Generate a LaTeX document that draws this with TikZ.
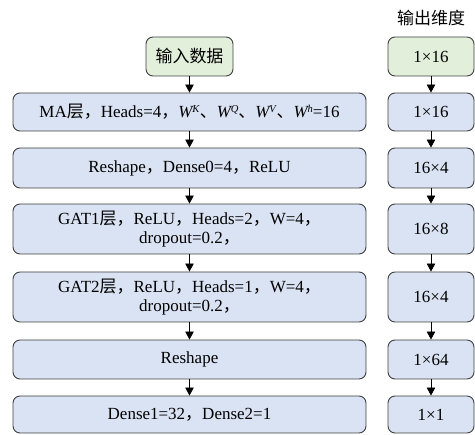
\documentclass[tikz,border=0pt]{standalone}
\usepackage{fontspec}
\setmainfont{Liberation Serif}
\newfontfamily\cjk{Noto Sans CJK SC}
\usetikzlibrary{arrows.meta}
\newcommand{\zh}[1]{{\cjk #1}}
\newcommand{\Wsup}[1]{\textit{W}\kern-1.5pt\raisebox{5pt}{\fontsize{10.5}{10.5}\selectfont\textit{#1}}}
\definecolor{boxblue}{HTML}{DAE3F3}
\definecolor{boxgreen}{HTML}{E2EFDA}
\definecolor{edgegray}{HTML}{404040}
\begin{document}
\begin{tikzpicture}[x=1pt,y=-1pt,
  layer/.style={draw=edgegray, line width=0.9pt, rounded corners=7pt, fill=boxblue,
    minimum width=353pt, inner sep=0pt, align=center, font=\fontsize{17}{19.5}\selectfont},
  dim/.style={layer, minimum width=86pt},
  start/.style={fill=boxgreen},
  flow/.style={draw=black, line width=0.8pt, -{Triangle[width=8.5pt,length=8pt]}}]
\useasboundingbox (0,0) rectangle (475,435);
% left column
\node[layer, start, minimum width=87pt, minimum height=39pt] (in) at (189.5,56.5) {\zh{输入数据}};
\node[layer, minimum height=38pt] (ma) at (189.5,112) {MA\zh{层，}Heads=4\zh{，}\Wsup{K}\zh{、}\Wsup{Q}\zh{、}\Wsup{V}\zh{、}\Wsup{h}=16};
\node[layer, minimum height=40pt] (rs) at (189.5,168) {Reshape\zh{，}Dense0=4\zh{，}ReLU};
\node[layer, minimum height=50pt] (g1) at (189.5,229) {GAT1\zh{层，}ReLU\zh{，}Heads=2\zh{，}W=4\zh{，}\\dropout=0.2\zh{，}};
\node[layer, minimum height=50pt] (g2) at (189.5,297) {GAT2\zh{层，}ReLU\zh{，}Heads=1\zh{，}W=4\zh{，}\\dropout=0.2\zh{，}};
\node[layer, minimum height=39pt] (rs2) at (189.5,359.5) {Reshape};
\node[layer, minimum height=37pt] (dn) at (189.5,414.5) {Dense1=32\zh{，}Dense2=1};
% right column
\node[font=\cjk\fontsize{17}{19}\selectfont, inner sep=0pt] (title) at (431,18) {输出维度};
\node[dim, start, minimum height=39pt] (d0) at (431,56.5) {1×16};
\node[dim, minimum height=38pt] (d1) at (431,112) {1×16};
\node[dim, minimum height=40pt] (d2) at (431,168) {16×4};
\node[dim, minimum height=50pt] (d3) at (431,229) {16×8};
\node[dim, minimum height=50pt] (d4) at (431,297) {16×4};
\node[dim, minimum height=39pt] (d5) at (431,359.5) {1×64};
\node[dim, minimum height=37pt] (d6) at (431,414.5) {1×1};
% arrows
\draw[flow] (in) -- (ma);
\draw[flow] (ma) -- (rs);
\draw[flow] (rs) -- (g1);
\draw[flow] (g1) -- (g2);
\draw[flow] (g2) -- (rs2);
\draw[flow] (rs2) -- (dn);
\draw[flow] (d0) -- (d1);
\draw[flow] (d1) -- (d2);
\draw[flow] (d2) -- (d3);
\draw[flow] (d3) -- (d4);
\draw[flow] (d4) -- (d5);
\draw[flow] (d5) -- (d6);
\end{tikzpicture}
\end{document}
